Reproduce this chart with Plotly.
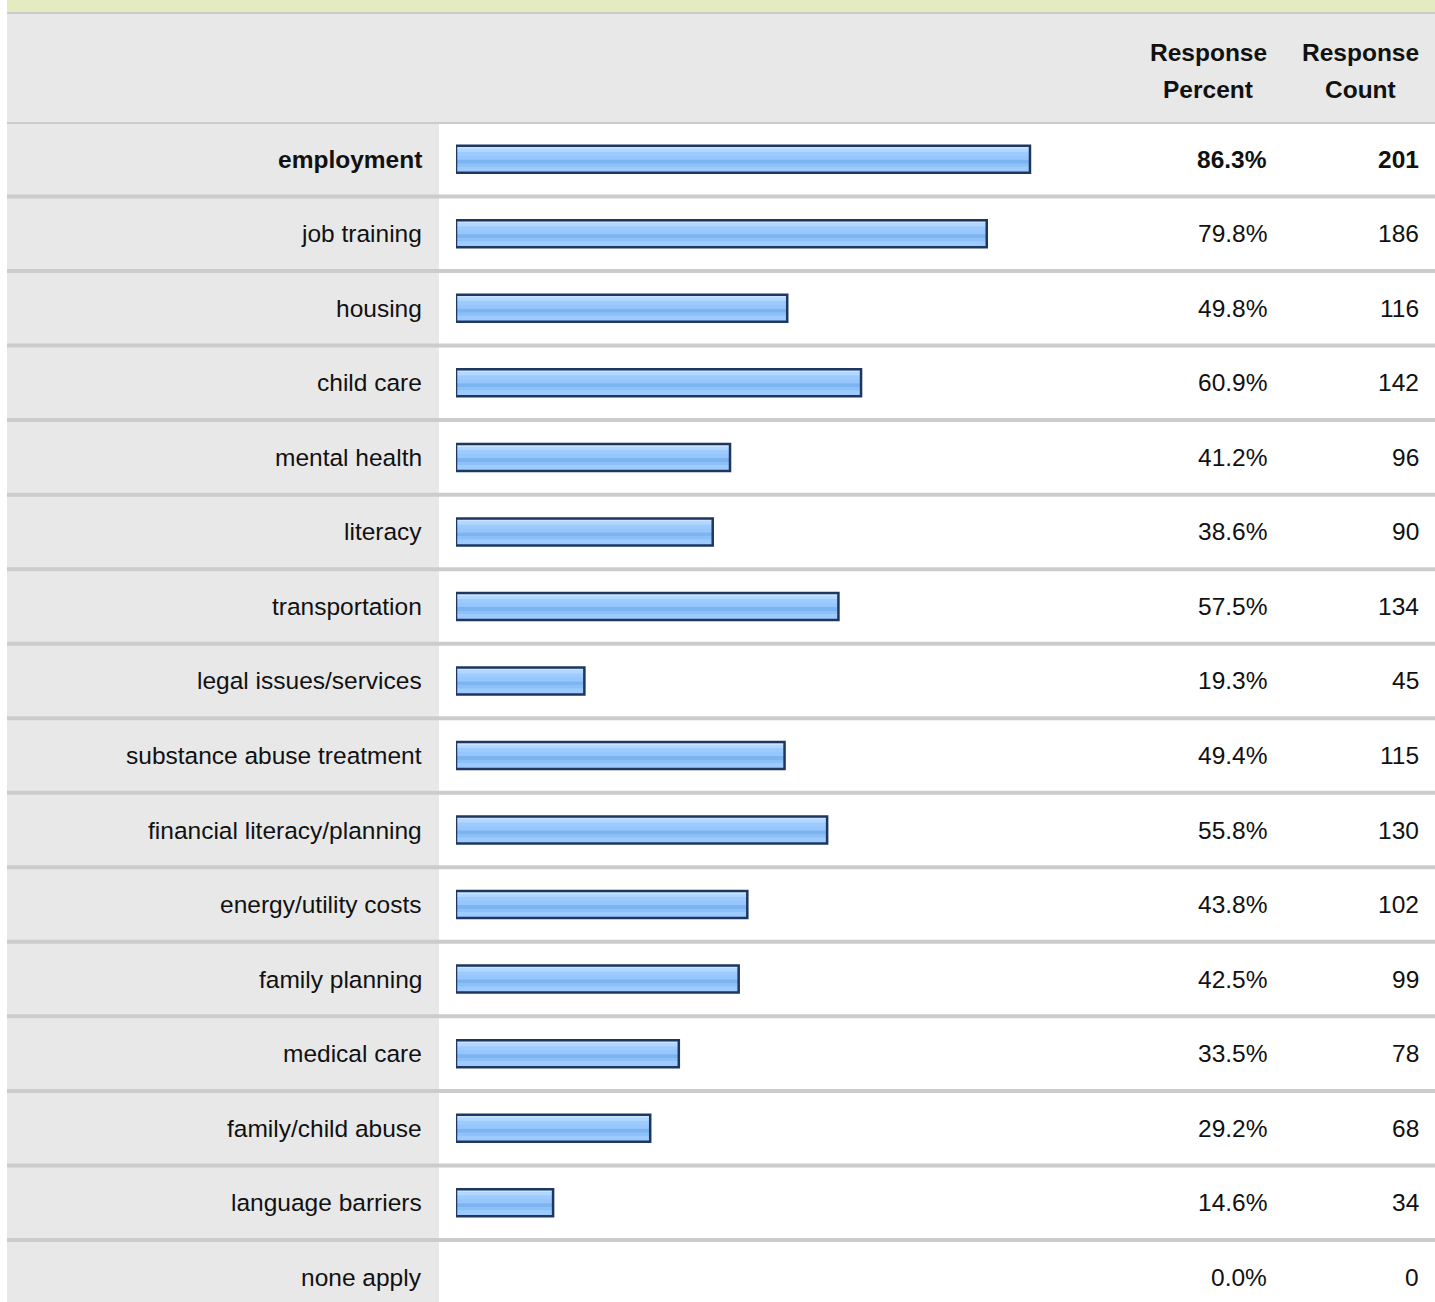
import plotly.graph_objects as go

# Survey answers and their response figures
categories = [
    "employment", "job training", "housing", "child care", "mental health",
    "literacy", "transportation", "legal issues/services",
    "substance abuse treatment", "financial literacy/planning",
    "energy/utility costs", "family planning", "medical care",
    "family/child abuse", "language barriers", "none apply",
]
response_percent = [86.3, 79.8, 49.8, 60.9, 41.2, 38.6, 57.5, 19.3,
                    49.4, 55.8, 43.8, 42.5, 33.5, 29.2, 14.6, 0.0]
response_count = [201, 186, 116, 142, 96, 90, 134, 45,
                  115, 130, 102, 99, 78, 68, 34, 0]
header_percent = ["Response", "Percent"]
header_count = ["Response", "Count"]

W, H = 1435, 1302
ROW_TOP = 122          # pixel y where the first answer row begins
PITCH = 74.53          # pixel height of one table row
BAR_PX = 29            # outer bar thickness in pixels
FONT = "Liberation Sans, Arial, sans-serif"
FONT_SIZE = 24.5


def px_x(p):
    return p / W


def px_y(p):
    return 1 - p / H


n = len(categories)
y_bottom_val = (H - ROW_TOP) / PITCH - 0.5
bar_vals = [v if v > 0 else None for v in response_percent]

fig = go.Figure()

# bar body: base colour, then horizontal gloss bands, then the dark outline
base_w = (BAR_PX - 2) / PITCH
fig.add_trace(go.Bar(
    y=categories, x=bar_vals, orientation="h", width=base_w,
    marker=dict(color="#9ecbff", line=dict(width=0)), hoverinfo="skip",
))
bands = [  # (top offset px, bottom offset px, colour) measured from outer bar top
    (2, 4, "#cae4ff"),
    (4, 7, "#b2d8ff"),
    (11, 15, "#96c6fc"),
    (15, 19, "#7cb3f1"),
    (19, 22, "#8cc0f7"),
]
for t, b, c in bands:
    fig.add_trace(go.Bar(
        y=categories, x=bar_vals, orientation="h",
        width=(b - t) / PITCH, offset=(t - BAR_PX / 2) / PITCH,
        marker=dict(color=c, line=dict(width=0)), hoverinfo="skip",
    ))
fig.add_trace(go.Bar(
    y=categories, x=bar_vals, orientation="h", width=base_w,
    marker=dict(color="rgba(0,0,0,0)", line=dict(color="#1d3760", width=2.5)),
    hoverinfo="skip",
))

shapes = [
    # pale top strip and header block
    dict(type="rect", xref="paper", yref="paper", x0=px_x(7), x1=1,
         y0=px_y(0), y1=px_y(12), fillcolor="#e5ebc0", line_width=0, layer="below"),
    dict(type="rect", xref="paper", yref="paper", x0=px_x(7), x1=1,
         y0=px_y(12), y1=px_y(14), fillcolor="#cbcbcb", line_width=0, layer="below"),
    dict(type="rect", xref="paper", yref="paper", x0=px_x(7), x1=1,
         y0=px_y(14), y1=px_y(ROW_TOP), fillcolor="#e8e8e8", line_width=0, layer="below"),
    # label column
    dict(type="rect", xref="paper", yref="paper", x0=px_x(7), x1=px_x(439),
         y0=0, y1=px_y(ROW_TOP), fillcolor="#e8e8e8", line_width=0, layer="below"),
]
# row separators
for k in range(n):
    shapes.append(dict(type="line", xref="paper", yref="y", x0=px_x(7), x1=1,
                       y0=k - 0.5, y1=k - 0.5,
                       line=dict(color="#cccccc", width=4), layer="below"))

annotations = []
for col_x, lines in ((1208, header_percent), (1360, header_count)):
    for i, txt in enumerate(lines):
        annotations.append(dict(
            xref="paper", yref="paper", x=px_x(col_x), y=px_y(52 + 37 * i),
            text=f"<b>{txt}</b>", showarrow=False, xanchor="center", yanchor="middle",
            font=dict(family=FONT, size=FONT_SIZE, color="#111111"),
        ))

for i, (cat, pct, cnt) in enumerate(zip(categories, response_percent, response_count)):
    bold = i == 0
    fmt = (lambda s: f"<b>{s}</b>") if bold else (lambda s: s)
    color = "#111111"
    annotations.append(dict(
        xref="paper", yref="y", x=px_x(424), y=cat, text=fmt(cat),
        showarrow=False, xanchor="right", yanchor="middle",
        font=dict(family=FONT, size=FONT_SIZE, color=color),
    ))
    annotations.append(dict(
        xref="paper", yref="y", x=px_x(1269), y=cat, text=fmt(f"{pct:.1f}%"),
        showarrow=False, xanchor="right", yanchor="middle",
        font=dict(family=FONT, size=FONT_SIZE, color=color),
    ))
    annotations.append(dict(
        xref="paper", yref="y", x=px_x(1421), y=cat, text=fmt(f"{cnt}"),
        showarrow=False, xanchor="right", yanchor="middle",
        font=dict(family=FONT, size=FONT_SIZE, color=color),
    ))

fig.update_layout(
    width=W, height=H,
    margin=dict(l=0, r=0, t=0, b=0, pad=0),
    paper_bgcolor="white", plot_bgcolor="rgba(0,0,0,0)",
    barmode="overlay", showlegend=False,
    xaxis=dict(range=[0, 100], domain=[px_x(456), px_x(456 + 665.1)],
               visible=False, fixedrange=True),
    yaxis=dict(type="category", categoryorder="array", categoryarray=categories,
               range=[y_bottom_val, -0.5], domain=[0, px_y(ROW_TOP)],
               visible=False, fixedrange=True),
    shapes=shapes, annotations=annotations,
)

fig.write_html("out.html", config={"displayModeBar": False})
